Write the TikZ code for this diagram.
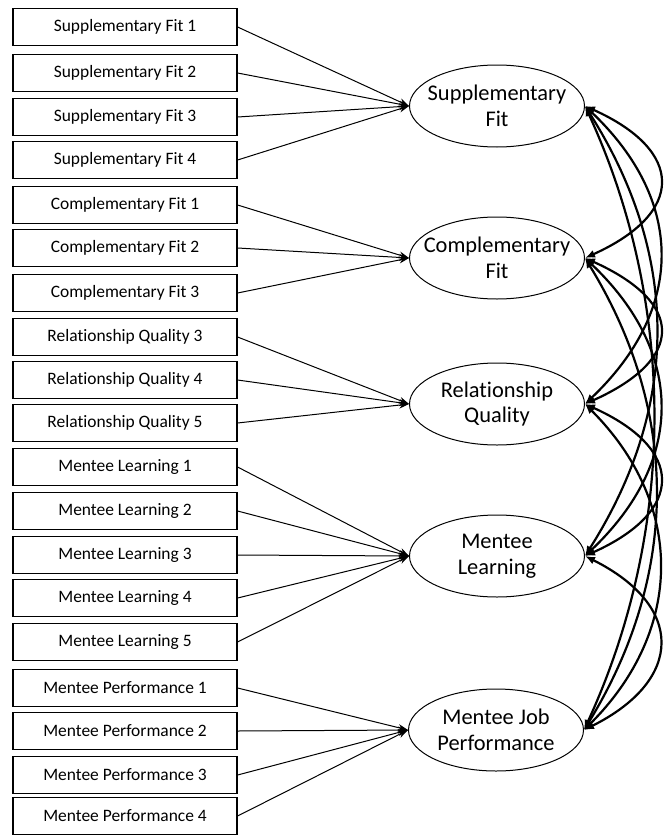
\documentclass[tikz,border=0pt]{standalone}
\usepackage{fontspec}
\setmainfont[Ligatures=NoCommon]{Carlito}
\usetikzlibrary{shapes.geometric,arrows.meta}
\tikzset{
  ind/.style={draw, line width=1.2bp, minimum width=224bp, minimum height=37bp, inner sep=0pt,
    font=\fontsize{17.5}{20}\selectfont},
  lat/.style={draw, ellipse, line width=1bp, minimum width=175bp, minimum height=82bp, inner sep=0pt},
  lattxt/.style={align=center, font=\fontsize{22.5}{26}\selectfont, inner sep=0pt},
  load/.style={line width=1bp, arrows={-Stealth[length=10bp,width=7bp]}},
  cov/.style={line width=2.2bp, arrows={Latex[length=10bp,width=8bp]-Latex[length=10bp,width=8bp]}}
}
\begin{document}
\begin{tikzpicture}[x=1bp,y=-1bp]
\useasboundingbox (0,0) rectangle (668,835);
\fill[white] (0,0) rectangle (668,835);
% indicators
\node[ind] (s1) at (125,27) {Supplementary Fit 1};
\node[ind] (s2) at (125,73) {Supplementary Fit 2};
\node[ind] (s3) at (125,117) {Supplementary Fit 3};
\node[ind] (s4) at (125,160) {Supplementary Fit 4};
\node[ind] (c1) at (125,205) {Complementary Fit 1};
\node[ind] (c2) at (125,248) {Complementary Fit 2};
\node[ind] (c3) at (125,293) {Complementary Fit 3};
\node[ind] (r3) at (125,337) {Relationship Quality 3};
\node[ind] (r4) at (125,380) {Relationship Quality 4};
\node[ind] (r5) at (125,423) {Relationship Quality 5};
\node[ind] (l1) at (125,467) {Mentee Learning 1};
\node[ind] (l2) at (125,511) {Mentee Learning 2};
\node[ind] (l3) at (125,555) {Mentee Learning 3};
\node[ind] (l4) at (125,598) {Mentee Learning 4};
\node[ind] (l5) at (125,642) {Mentee Learning 5};
\node[ind] (p1) at (125,688) {Mentee Performance 1};
\node[ind] (p2) at (125,731) {Mentee Performance 2};
\node[ind] (p3) at (125,775) {Mentee Performance 3};
\node[ind] (p4) at (125,816) {Mentee Performance 4};
% latent variables
\node[lat, label={[lattxt]center:Supplementary\\Fit}] (sf) at (497,106) {};
\node[lat, label={[lattxt]center:Complementary\\Fit}] (cf) at (497,258) {};
\node[lat, label={[lattxt]center:Relationship\\Quality}] (rq) at (497,404) {};
\node[lat, label={[lattxt]center:Mentee\\Learning}] (ml) at (497,556) {};
\node[lat, label={[lattxt]center:Mentee Job\\Performance}] (jp) at (496,730) {};
% loadings
\foreach \i in {s1,s2,s3,s4} \draw[load] (\i.east) -- (sf.west);
\foreach \i in {c1,c2,c3} \draw[load] (\i.east) -- (cf.west);
\foreach \i in {r3,r4,r5} \draw[load] (\i.east) -- (rq.west);
\foreach \i in {l1,l2,l3,l4,l5} \draw[load] (\i.east) -- (ml.west);
\foreach \i in {p1,p2,p3,p4} \draw[load] (\i.east) -- (jp.west);
% covariances
\begin{scope}
\clip (0,0) rectangle (668,835);
\draw[cov] (sf.east) .. controls +(100,45) and +(100,-45) .. (cf.east);
\draw[cov] (cf.east) .. controls +(100,45) and +(100,-45) .. (rq.east);
\draw[cov] (rq.east) .. controls +(100,45) and +(100,-45) .. (ml.east);
\draw[cov] (ml.east) .. controls +(100,50) and +(100,-50) .. (jp.east);
\draw[cov] (sf.east) .. controls +(100,95) and +(100,-95) .. (rq.east);
\draw[cov] (cf.east) .. controls +(100,95) and +(100,-95) .. (ml.east);
\draw[cov] (rq.east) .. controls +(100,100) and +(100,-100) .. (jp.east);
\draw[cov] (sf.east) .. controls +(95,150) and +(95,-150) .. (ml.east);
\draw[cov] (cf.east) .. controls +(95,155) and +(95,-155) .. (jp.east);
\draw[cov] (sf.east) .. controls +(92,200) and +(92,-200) .. (jp.east);
\end{scope}
\end{tikzpicture}
\end{document}
